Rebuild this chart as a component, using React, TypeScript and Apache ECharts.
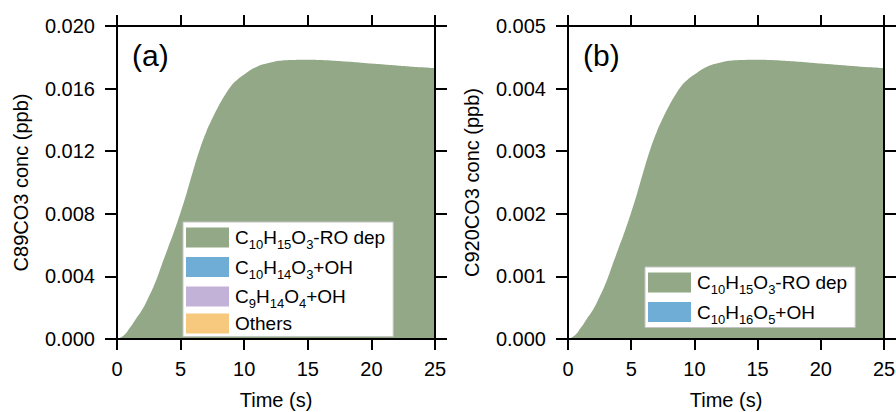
import React, { useEffect, useRef } from "react";
import * as echarts from "echarts";

const timeS = [0, 0.5, 1, 1.5, 2, 2.5, 3, 3.5, 4, 4.5, 5, 5.5, 6, 6.5, 7, 7.5, 8, 8.5, 9, 9.5, 10, 11, 12, 13, 14, 15, 16, 17, 18, 19, 20, 21, 22, 23, 24, 25];

// Panel (a): C89CO3 (ppb)
const a_roDep = [0, 0.0002, 0.0007, 0.0013, 0.0019, 0.0027, 0.0036, 0.0047, 0.0058, 0.0069, 0.0081, 0.0094, 0.0108, 0.0121, 0.0132, 0.0141, 0.0149, 0.0156, 0.0162, 0.0166, 0.0169, 0.0174, 0.01765, 0.0178, 0.01783, 0.01784, 0.01782, 0.01778, 0.01773, 0.01767, 0.0176, 0.01754, 0.01748, 0.01742, 0.01736, 0.0173];
const a_c10h14o3 = timeS.map(() => 0);
const a_c9h14o4 = timeS.map(() => 0);
const a_others = timeS.map(() => 0);

// Panel (b): C920CO3 (ppb)
const b_roDep = [0, 0.00005, 0.000175, 0.000325, 0.000475, 0.000675, 0.0009, 0.001175, 0.00145, 0.001725, 0.002025, 0.00235, 0.0027, 0.003025, 0.0033, 0.003525, 0.003725, 0.0039, 0.00405, 0.00415, 0.004225, 0.00435, 0.004413, 0.00445, 0.004458, 0.00446, 0.004455, 0.004445, 0.004433, 0.004418, 0.0044, 0.004385, 0.00437, 0.004355, 0.00434, 0.004325];
const b_c10h16o5 = timeS.map(() => 0);

const xTicks = [0, 5, 10, 15, 20, 25];
const yTicksA = [0, 0.004, 0.008, 0.012, 0.016, 0.02];
const yTicksB = [0, 0.001, 0.002, 0.003, 0.004, 0.005];

const namesA = ["C10H15O3-RO dep", "C10H14O3+OH", "C9H14O4+OH", "Others"];
const namesB = ["C10H15O3-RO dep", "C10H16O5+OH"];

const GREEN = "#92A886";
const BLUE = "#70ADD6";
const PURPLE = "#C3B2D7";
const ORANGE = "#F6C97E";

const FONT = "'Liberation Sans', Arial, Helvetica, sans-serif";

export default function App() {
  const ref = useRef<HTMLDivElement>(null);
  useEffect(() => {
    if (!ref.current) return;
    const chart = echarts.init(ref.current, undefined, { renderer: "svg" });
    const pairs = (vals: number[]) => timeS.map((t, i) => [t, vals[i]]);

    const axisLineStyle = { color: "#000", width: 2 };
    const labelStyle = { color: "#000", fontSize: 20, fontFamily: FONT };

    const xAxisBase = (grid: number) => ({
      type: "value",
      gridIndex: grid,
      min: xTicks[0],
      max: xTicks[xTicks.length - 1],
      interval: 5,
      splitLine: { show: false },
      axisLine: { show: true, onZero: false, lineStyle: axisLineStyle },
      axisTick: { show: true, inside: false, length: 11, lineStyle: axisLineStyle },
      z: 10,
    });
    const yAxisBase = (grid: number, ticks: number[]) => ({
      type: "value",
      gridIndex: grid,
      min: ticks[0],
      max: ticks[ticks.length - 1],
      interval: ticks[1] - ticks[0],
      splitLine: { show: false },
      axisLine: { show: true, onZero: false, lineStyle: axisLineStyle },
      axisTick: { show: true, inside: false, length: 12, lineStyle: axisLineStyle },
      z: 10,
    });

    const areaSeries = (name: string, data: number[], color: string, xi: number, yi: number) => ({
      type: "line",
      name,
      xAxisIndex: xi,
      yAxisIndex: yi,
      data: pairs(data),
      smooth: 0.5,
      showSymbol: false,
      symbol: "none",
      color,
      itemStyle: { color },
      lineStyle: { width: 0, color },
      areaStyle: { color, opacity: 1 },
    });

    const legendBase = {
      orient: "vertical",
      icon: "rect",
      itemWidth: 43,
      itemHeight: 20,
      itemGap: 2.5,
      backgroundColor: "#fff",
      borderColor: "#c4c4c4",
      borderWidth: 1,
      borderRadius: 0,
      padding: [2, 8, 2, 3],
      selectedMode: false,
      z: 20,
      formatter: (n: string) => n.replace(/(\d+)/g, "{s|$1}"),
      textStyle: {
        color: "#000",
        fontSize: 19,
        lineHeight: 22,
        fontFamily: FONT,
        padding: [0, 0, 0, 1],
        rich: {
          s: { fontSize: 13, lineHeight: 8, padding: [14, 0, 0, 0], fontFamily: FONT, color: "#000" },
        },
      },
    };

    const option = {
      animation: false,
      backgroundColor: "#fff",
      grid: [
        { left: 117, top: 26, width: 318, height: 313, outerBoundsMode: "none", containLabel: false },
        { left: 568, top: 26, width: 316, height: 313, outerBoundsMode: "none", containLabel: false },
      ],
      xAxis: [
        {
          ...xAxisBase(0),
          position: "bottom",
          name: "Time (s)",
          nameLocation: "middle",
          nameGap: 51,
          nameTextStyle: labelStyle,
          axisLabel: { ...labelStyle, margin: 20 },
        },
        { ...xAxisBase(0), position: "top", axisLabel: { show: false } },
        {
          ...xAxisBase(1),
          position: "bottom",
          name: "Time (s)",
          nameLocation: "middle",
          nameGap: 51,
          nameTextStyle: labelStyle,
          axisLabel: { ...labelStyle, margin: 20 },
        },
        { ...xAxisBase(1), position: "top", axisLabel: { show: false } },
      ],
      yAxis: [
        {
          ...yAxisBase(0, yTicksA),
          position: "left",
          name: "C89CO3 conc (ppb)",
          nameLocation: "middle",
          nameGap: 86,
          nameTextStyle: labelStyle,
          axisLabel: { ...labelStyle, margin: 22, formatter: (v: number) => v.toFixed(3) },
        },
        { ...yAxisBase(0, yTicksA), position: "right", axisLabel: { show: false } },
        {
          ...yAxisBase(1, yTicksB),
          position: "left",
          name: "C920CO3 conc (ppb)",
          nameLocation: "middle",
          nameGap: 86,
          nameTextStyle: labelStyle,
          axisLabel: { ...labelStyle, margin: 22, formatter: (v: number) => v.toFixed(3) },
        },
        { ...yAxisBase(1, yTicksB), position: "right", axisLabel: { show: false } },
      ],
      legend: [
        { ...legendBase, left: 183, top: 222, data: namesA },
        { ...legendBase, left: 645, top: 267, data: namesB },
      ],
      graphic: [
        { type: "text", left: 132, top: 40, z: 50, style: { text: "(a)", fontSize: 30, fontFamily: FONT, fill: "#000" } },
        { type: "text", left: 583, top: 40, z: 50, style: { text: "(b)", fontSize: 30, fontFamily: FONT, fill: "#000" } },
      ],
      series: [
        areaSeries(namesA[0], a_roDep, GREEN, 0, 0),
        areaSeries(namesA[1], a_c10h14o3, BLUE, 0, 0),
        areaSeries(namesA[2], a_c9h14o4, PURPLE, 0, 0),
        areaSeries(namesA[3], a_others, ORANGE, 0, 0),
        areaSeries(namesB[0], b_roDep, GREEN, 2, 2),
        areaSeries(namesB[1], b_c10h16o5, BLUE, 2, 2),
      ],
    };
    chart.setOption(option as any);
    return () => chart.dispose();
  }, []);
  return <div ref={ref} style={{ position: "fixed", left: 0, top: 0, width: 896, height: 412 }} />;
}
